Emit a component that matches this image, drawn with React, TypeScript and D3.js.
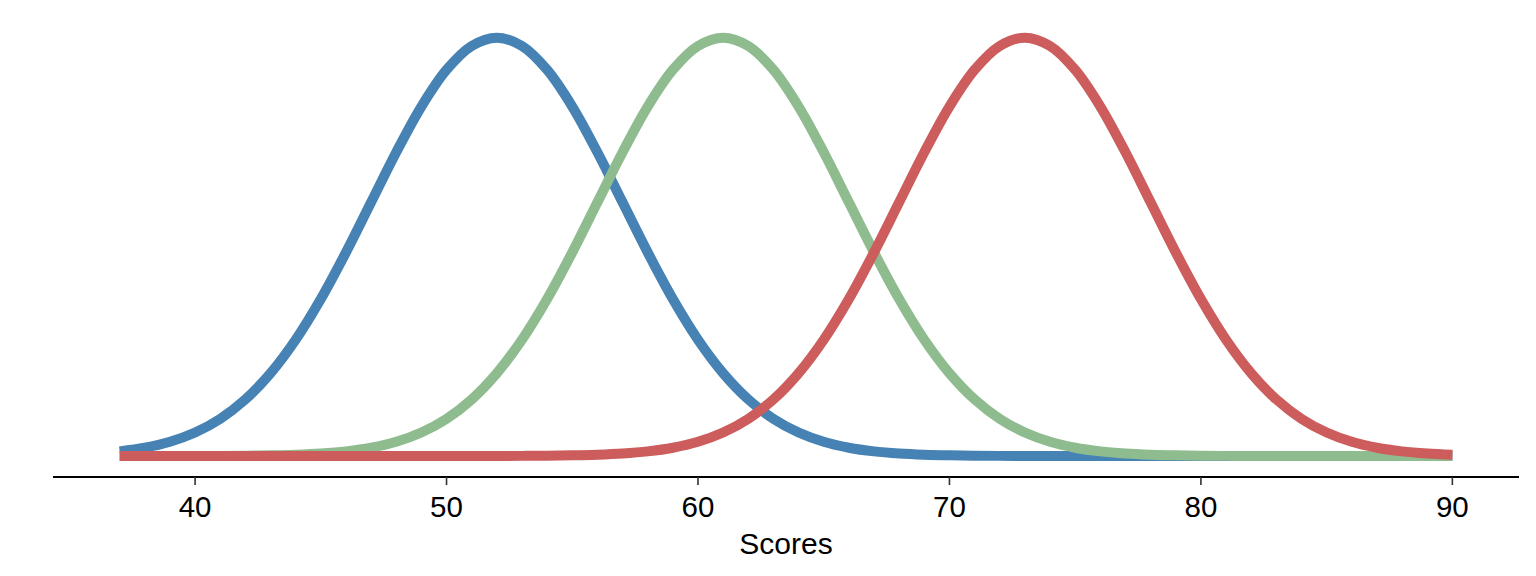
import React from "react";
import * as d3 from "d3";

const scores: number[] = d3.range(37, 91);

// Relative density heights (peak = 1)
const blueValues: number[] = [
  0.0111, 0.0198, 0.034, 0.0561, 0.0889, 0.1353, 0.1979, 0.278, 0.3753, 0.4868,
  0.6065, 0.7261, 0.8353, 0.9231, 0.9802, 1.0, 0.9802, 0.9231, 0.8353, 0.7261,
  0.6065, 0.4868, 0.3753, 0.278, 0.1979, 0.1353, 0.0889, 0.0561, 0.034, 0.0198,
  0.0111, 0.006, 0.0031, 0.0015, 0.0007, 0.0003, 0.0001,
  0, 0, 0, 0, 0, 0, 0, 0, 0, 0, 0, 0, 0, 0, 0, 0, 0,
];

const greenValues: number[] = [
  0, 0, 0, 0.0001, 0.0003, 0.0007, 0.0015, 0.0031, 0.006, 0.0111,
  0.0198, 0.034, 0.0561, 0.0889, 0.1353, 0.1979, 0.278, 0.3753, 0.4868, 0.6065,
  0.7261, 0.8353, 0.9231, 0.9802, 1.0, 0.9802, 0.9231, 0.8353, 0.7261, 0.6065,
  0.4868, 0.3753, 0.278, 0.1979, 0.1353, 0.0889, 0.0561, 0.034, 0.0198, 0.0111,
  0.006, 0.0031, 0.0015, 0.0007, 0.0003, 0.0001,
  0, 0, 0, 0, 0, 0, 0, 0,
];

const redValues: number[] = [
  0, 0, 0, 0, 0, 0, 0, 0, 0, 0, 0, 0, 0, 0, 0,
  0.0001, 0.0003, 0.0007, 0.0015, 0.0031, 0.006, 0.0111, 0.0198, 0.034, 0.0561,
  0.0889, 0.1353, 0.1979, 0.278, 0.3753, 0.4868, 0.6065, 0.7261, 0.8353, 0.9231,
  0.9802, 1.0, 0.9802, 0.9231, 0.8353, 0.7261, 0.6065, 0.4868, 0.3753, 0.278,
  0.1979, 0.1353, 0.0889, 0.0561, 0.034, 0.0198, 0.0111, 0.006, 0.0031,
];

const seriesNames: string[] = ["blue", "green", "red"];
const seriesColors: string[] = ["#4682B4", "#8FBC8F", "#CD5C5C"];
const seriesValues: number[][] = [blueValues, greenValues, redValues];

const xTicks: number[] = [40, 50, 60, 70, 80, 90];
const xLabel = "Scores";

const W = 1536;
const H = 576;

export default function App() {
  const xMin = d3.min(scores)!;
  const xMax = d3.max(scores)!;
  const pad = (xMax - xMin) * 0.05;
  const x = d3
    .scaleLinear()
    .domain([xMin - pad, xMax + pad])
    .range([53, 1519]);
  const y = d3.scaleLinear().domain([0, 1]).range([456, 37.7]);

  const line = d3
    .line<[number, number]>()
    .x((d) => x(d[0]))
    .y((d) => y(d[1]))
    .curve(d3.curveCatmullRom.alpha(0.5));

  const axisY = 477;
  const font = "'Liberation Sans', Arial, sans-serif";

  return (
    <svg
      width={W}
      height={H}
      style={{ position: "fixed", left: 0, top: 0, background: "#fff" }}
    >
      <rect x={0} y={0} width={W} height={H} fill="#fff" />
      {seriesValues.map((vals, i) => (
        <path
          key={seriesNames[i]}
          d={line(scores.map((s, j) => [s, vals[j]] as [number, number])) || ""}
          fill="none"
          stroke={seriesColors[i]}
          strokeWidth={10}
          strokeLinecap="butt"
          strokeLinejoin="round"
        />
      ))}
      <line
        x1={x.range()[0]}
        x2={x.range()[1]}
        y1={axisY}
        y2={axisY}
        stroke="#000"
        strokeWidth={2}
      />
      {xTicks.map((t) => (
        <g key={t}>
          <line
            x1={x(t)}
            x2={x(t)}
            y1={axisY}
            y2={axisY + 8}
            stroke="#333"
            strokeWidth={1.6}
          />
          <text
            x={x(t)}
            y={517}
            textAnchor="middle"
            fontFamily={font}
            fontSize={29.5}
            fill="#000"
          >
            {t}
          </text>
        </g>
      ))}
      <text
        x={(x.range()[0] + x.range()[1]) / 2}
        y={554}
        textAnchor="middle"
        fontFamily={font}
        fontSize={30}
        fill="#000"
      >
        {xLabel}
      </text>
    </svg>
  );
}
